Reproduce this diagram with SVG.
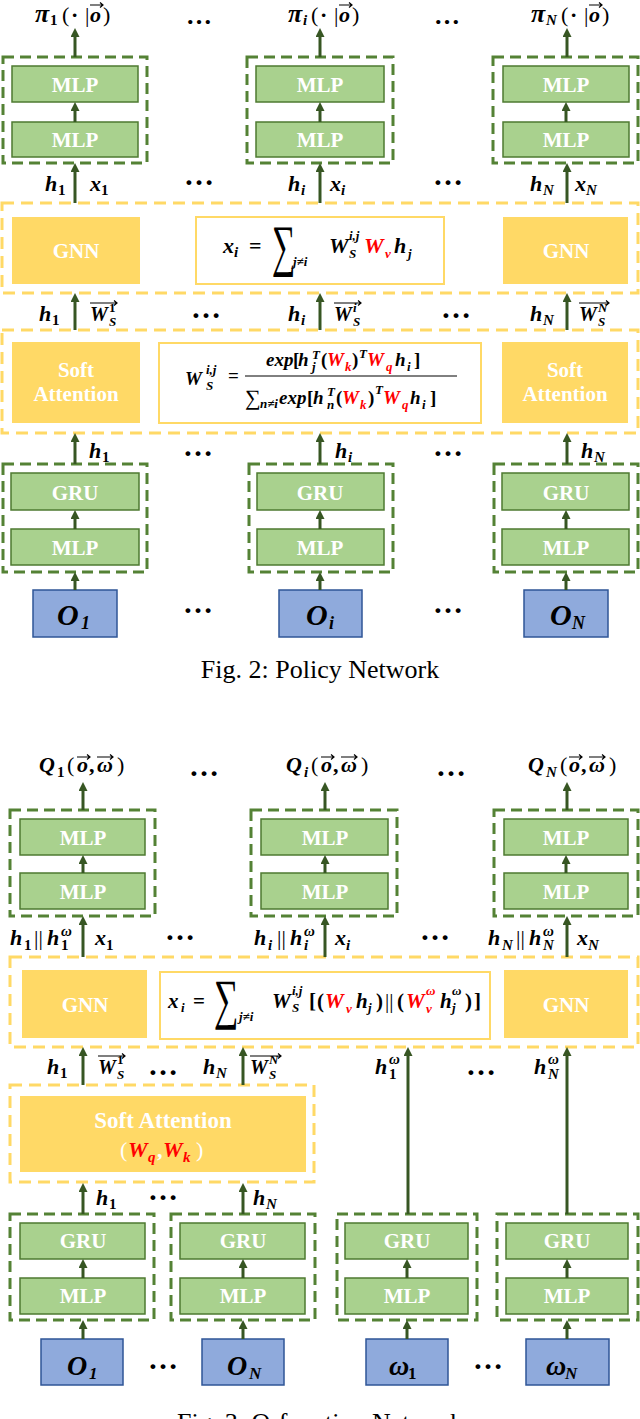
<svg xmlns="http://www.w3.org/2000/svg" width="640" height="1419" viewBox="0 0 640 1419">
<defs>
<style>
.m{font-family:"Liberation Serif","DejaVu Serif",serif;font-weight:bold;font-style:italic;font-size:22px;fill:#000}
.s{font-size:15px}
.t{font-size:13px}
.u{font-style:normal}
.n{font-weight:normal}
.r{fill:#FF0000}
.w{fill:#fff}
.lbl{font-family:"Liberation Serif",serif;font-weight:bold;font-size:21px;fill:#fff;text-anchor:middle}
.dots{font-family:"Liberation Serif",serif;font-weight:bold;font-size:30px;text-anchor:middle;fill:#000}
.cap{font-family:"Liberation Serif",serif;font-size:26px;text-anchor:middle;fill:#000}
.gd{fill:none;stroke:#548235;stroke-width:3;stroke-dasharray:11 6}
.yd{fill:none;stroke:#FFD966;stroke-width:3;stroke-dasharray:12 7}
.gb{fill:#A9D18E;stroke:#4E7A30;stroke-width:1.5}
.yb{fill:#FFD966}
.fb{fill:#fff;stroke:#FFD966;stroke-width:2}
.bb{fill:#8FAADC;stroke:#2F5597;stroke-width:1.5}
.ar{stroke:#375623;stroke-width:3;fill:none;marker-end:url(#ah)}
.vec{stroke:#000;stroke-width:1.2;fill:none}
.sig{font-family:"Liberation Serif",serif;font-weight:normal;font-size:30px;fill:#000}
</style>
<marker id="ah" viewBox="0 0 10 10" refX="2.2" refY="5" markerWidth="9" markerHeight="9" markerUnits="userSpaceOnUse" orient="auto">
<path d="M0,0 L10,5 L0,10 z" fill="#375623"/>
</marker>
</defs>
<rect width="640" height="1419" fill="#fff"/>

<!-- ================= POLICY NETWORK ================= -->
<g id="p-stack-top-1"><rect class="gd" x="3" y="57" width="144" height="106"/></g>
<g id="p-stack-top-i"><rect class="gd" x="247" y="57" width="146" height="106"/></g>
<g id="p-stack-top-N"><rect class="gd" x="493" y="57" width="145" height="106"/></g>

<g id="p-mlp2-1"><rect class="gb" x="12" y="66" width="126" height="36"/><text class="lbl" x="75" y="92">MLP</text></g>
<g id="p-mlp1-1"><rect class="gb" x="12" y="122" width="126" height="35"/><text class="lbl" x="75" y="147">MLP</text></g>
<g id="p-mlp2-i"><rect class="gb" x="256" y="66" width="128" height="36"/><text class="lbl" x="320" y="92">MLP</text></g>
<g id="p-mlp1-i"><rect class="gb" x="256" y="122" width="128" height="35"/><text class="lbl" x="320" y="147">MLP</text></g>
<g id="p-mlp2-N"><rect class="gb" x="503" y="66" width="126" height="36"/><text class="lbl" x="566" y="92">MLP</text></g>
<g id="p-mlp1-N"><rect class="gb" x="503" y="122" width="126" height="35"/><text class="lbl" x="566" y="147">MLP</text></g>

<g id="p-gnn-layer"><rect class="yd" x="2" y="203" width="636" height="90"/></g>
<g id="p-gnn-1"><rect class="yb" x="12" y="217" width="128" height="67"/><text class="lbl" x="76" y="258">GNN</text></g>
<g id="p-gnn-formula"><rect class="fb" x="196" y="217" width="248" height="67"/>
<text class="m">
<tspan x="223" y="253">x</tspan><tspan class="s" x="234" y="257">i</tspan>
<tspan class="u" x="249" y="253">=</tspan>
<tspan class="t" x="293" y="266">j≠i</tspan>
<tspan x="329" y="253">W</tspan><tspan class="t" x="349" y="240">i,j</tspan><tspan class="t" x="349" y="258">S</tspan>
<tspan class="r" x="364" y="253">W</tspan><tspan class="t r" x="385" y="258">v</tspan>
<tspan x="394" y="253">h</tspan><tspan class="t" x="408" y="258">j</tspan>
</text>
<text class="sig" transform="translate(272,265) scale(1.1,1.9)">∑</text></g>
<g id="p-gnn-N"><rect class="yb" x="503" y="217" width="125" height="67"/><text class="lbl" x="566" y="258">GNN</text></g>

<g id="p-att-layer"><rect class="yd" x="2" y="330" width="636" height="103"/></g>
<g id="p-att-1"><rect class="yb" x="12" y="342" width="128" height="81"/><text class="lbl" x="76" y="377">Soft</text><text class="lbl" x="76" y="401">Attention</text></g>
<g id="p-att-formula"><rect class="fb" x="159" y="343" width="322" height="80"/>
<text class="m" style="font-size:19px">
<tspan x="185" y="385">W</tspan><tspan class="t" x="206" y="374">i,j</tspan><tspan class="t" x="206" y="390">S</tspan>
<tspan class="u" x="228" y="382">=</tspan>
<tspan x="266" y="366">exp</tspan><tspan class="u" x="293" y="366">[</tspan><tspan x="298" y="366">h</tspan>
<tspan class="t" x="312" y="359">T</tspan><tspan class="t" x="312" y="371">j</tspan>
<tspan class="u" x="321" y="366">(</tspan><tspan class="r" x="327" y="366">W</tspan><tspan class="t r" x="345" y="371">k</tspan><tspan class="u" x="352" y="366">)</tspan>
<tspan class="t" x="359" y="358">T</tspan>
<tspan class="r" x="367" y="366">W</tspan><tspan class="t r" x="386" y="371">q</tspan>
<tspan x="395" y="366">h</tspan><tspan class="t" x="407" y="371">i</tspan><tspan class="u" x="414" y="366">]</tspan>
<tspan class="u n" style="font-size:22px" x="245" y="405">∑</tspan><tspan class="t" x="260" y="408">n≠i</tspan>
<tspan x="279" y="404">exp</tspan><tspan class="u" x="307" y="404">[</tspan><tspan x="313" y="404">h</tspan>
<tspan class="t" x="327" y="396">T</tspan><tspan class="t" x="327" y="409">n</tspan>
<tspan class="u" x="336" y="404">(</tspan><tspan class="r" x="342" y="404">W</tspan><tspan class="t r" x="360" y="409">k</tspan><tspan class="u" x="368" y="404">)</tspan>
<tspan class="t" x="375" y="394">T</tspan>
<tspan class="r" x="383" y="404">W</tspan><tspan class="t r" x="402" y="409">q</tspan>
<tspan x="410" y="404">h</tspan><tspan class="t" x="422" y="409">i</tspan><tspan class="u" x="430" y="404">]</tspan>
</text>
<line x1="245" y1="376" x2="457" y2="376" stroke="#000" stroke-width="1"/></g>
<g id="p-att-N"><rect class="yb" x="502" y="342" width="126" height="81"/><text class="lbl" x="565" y="377">Soft</text><text class="lbl" x="565" y="401">Attention</text></g>

<g id="p-stack-bot-1"><rect class="gd" x="3" y="464" width="144" height="108"/></g>
<g id="p-stack-bot-i"><rect class="gd" x="249" y="464" width="144" height="108"/></g>
<g id="p-stack-bot-N"><rect class="gd" x="494" y="464" width="144" height="108"/></g>
<g id="p-gru-1"><rect class="gb" x="11" y="473" width="128" height="37"/><text class="lbl" x="75" y="500">GRU</text></g>
<g id="p-mlp0-1"><rect class="gb" x="11" y="529" width="128" height="36"/><text class="lbl" x="75" y="555">MLP</text></g>
<g id="p-gru-i"><rect class="gb" x="257" y="473" width="127" height="37"/><text class="lbl" x="320" y="500">GRU</text></g>
<g id="p-mlp0-i"><rect class="gb" x="257" y="529" width="127" height="36"/><text class="lbl" x="320" y="555">MLP</text></g>
<g id="p-gru-N"><rect class="gb" x="502" y="473" width="127" height="37"/><text class="lbl" x="566" y="500">GRU</text></g>
<g id="p-mlp0-N"><rect class="gb" x="502" y="529" width="127" height="36"/><text class="lbl" x="566" y="555">MLP</text></g>

<g id="p-obs-1"><rect class="bb" x="33" y="590" width="84" height="47"/><text class="m" style="font-size:30px"><tspan x="57" y="625">O</tspan><tspan style="font-size:18px" x="81" y="629">1</tspan></text></g>
<g id="p-obs-i"><rect class="bb" x="279" y="590" width="83" height="47"/><text class="m" style="font-size:30px"><tspan x="306" y="625">O</tspan><tspan style="font-size:18px" x="329" y="629">i</tspan></text></g>
<g id="p-obs-N"><rect class="bb" x="524" y="590" width="84" height="47"/><text class="m" style="font-size:30px"><tspan x="550" y="625">O</tspan><tspan style="font-size:18px" x="572" y="629">N</tspan></text></g>

<!-- ================= Q NETWORK ================= -->
<g id="q-stack-top-1"><rect class="gd" x="10" y="810" width="145" height="106"/></g>
<g id="q-stack-top-i"><rect class="gd" x="251" y="810" width="146" height="106"/></g>
<g id="q-stack-top-N"><rect class="gd" x="494" y="810" width="144" height="106"/></g>
<g id="q-mlp2-1"><rect class="gb" x="20" y="819" width="125" height="36"/><text class="lbl" x="83" y="845">MLP</text></g>
<g id="q-mlp1-1"><rect class="gb" x="20" y="873" width="125" height="36"/><text class="lbl" x="83" y="899">MLP</text></g>
<g id="q-mlp2-i"><rect class="gb" x="261" y="819" width="127" height="36"/><text class="lbl" x="325" y="845">MLP</text></g>
<g id="q-mlp1-i"><rect class="gb" x="261" y="873" width="127" height="36"/><text class="lbl" x="325" y="899">MLP</text></g>
<g id="q-mlp2-N"><rect class="gb" x="504" y="819" width="124" height="36"/><text class="lbl" x="566" y="845">MLP</text></g>
<g id="q-mlp1-N"><rect class="gb" x="504" y="873" width="124" height="36"/><text class="lbl" x="566" y="899">MLP</text></g>

<g id="q-gnn-layer"><rect class="yd" x="10" y="957" width="628" height="90"/></g>
<g id="q-gnn-1"><rect class="yb" x="22" y="970" width="125" height="68"/><text class="lbl" x="85" y="1012">GNN</text></g>
<g id="q-gnn-formula"><rect class="fb" x="160" y="972" width="330" height="67"/>
<text class="m" style="font-size:21px">
<tspan x="168" y="1008">x</tspan><tspan class="t" x="181" y="1012">i</tspan>
<tspan class="u" x="193" y="1008">=</tspan>
<tspan class="t" x="239" y="1021">j≠i</tspan>
<tspan x="272" y="1008">W</tspan><tspan class="t" x="292" y="995">i,j</tspan><tspan class="t" x="292" y="1012">S</tspan>
<tspan class="u" x="309" y="1008">[</tspan><tspan class="u" x="317" y="1008">(</tspan>
<tspan class="r" x="325" y="1008">W</tspan><tspan class="t r" x="346" y="1013">v</tspan>
<tspan x="356" y="1008">h</tspan><tspan class="t" x="368" y="1012">j</tspan>
<tspan class="u" x="376" y="1008">)</tspan><tspan class="u n" x="385" y="1008">||</tspan><tspan class="u" x="397" y="1008">(</tspan>
<tspan class="r" x="406" y="1008">W</tspan><tspan class="t r" x="426" y="995">ω</tspan><tspan class="t r" x="426" y="1013">v</tspan>
<tspan x="440" y="1008">h</tspan><tspan class="t" x="452" y="995">ω</tspan><tspan class="t" x="452" y="1012">j</tspan>
<tspan class="u" x="465" y="1008">)</tspan><tspan class="u" x="474" y="1008">]</tspan>
</text>
<text class="sig" transform="translate(214,1018) scale(1.15,1.85)">∑</text></g>
<g id="q-gnn-N"><rect class="yb" x="504" y="970" width="124" height="68"/><text class="lbl" x="566" y="1012">GNN</text></g>

<g id="q-att-layer"><rect class="yd" x="10" y="1085" width="304" height="97"/></g>
<g id="q-att"><rect class="yb" x="20" y="1096" width="286" height="76"/>
<text class="lbl" style="font-size:23px" x="163" y="1128">Soft Attention</text>
<text class="m" style="font-size:22px"><tspan class="u n w" x="120" y="1157">(</tspan><tspan class="r" x="128" y="1157">W</tspan><tspan class="s r" x="148" y="1162">q</tspan><tspan class="u w" x="157" y="1157">,</tspan><tspan class="r" x="163" y="1157">W</tspan><tspan class="s r" x="183" y="1162">k</tspan><tspan class="u n w" x="196" y="1157">)</tspan></text></g>

<g id="q-stack-bot-1"><rect class="gd" x="10" y="1214" width="144" height="106"/></g>
<g id="q-stack-bot-2"><rect class="gd" x="171" y="1214" width="144" height="106"/></g>
<g id="q-stack-bot-3"><rect class="gd" x="337" y="1214" width="140" height="106"/></g>
<g id="q-stack-bot-4"><rect class="gd" x="497" y="1214" width="141" height="106"/></g>
<g id="q-gru-1"><rect class="gb" x="20" y="1223" width="125" height="36"/><text class="lbl" x="83" y="1248">GRU</text></g>
<g id="q-mlp0-1"><rect class="gb" x="20" y="1278" width="125" height="36"/><text class="lbl" x="83" y="1303">MLP</text></g>
<g id="q-gru-2"><rect class="gb" x="180" y="1223" width="125" height="36"/><text class="lbl" x="243" y="1248">GRU</text></g>
<g id="q-mlp0-2"><rect class="gb" x="180" y="1278" width="125" height="36"/><text class="lbl" x="243" y="1303">MLP</text></g>
<g id="q-gru-3"><rect class="gb" x="345" y="1223" width="123" height="36"/><text class="lbl" x="407" y="1248">GRU</text></g>
<g id="q-mlp0-3"><rect class="gb" x="345" y="1278" width="123" height="36"/><text class="lbl" x="407" y="1303">MLP</text></g>
<g id="q-gru-4"><rect class="gb" x="506" y="1223" width="122" height="36"/><text class="lbl" x="567" y="1248">GRU</text></g>
<g id="q-mlp0-4"><rect class="gb" x="506" y="1278" width="122" height="36"/><text class="lbl" x="567" y="1303">MLP</text></g>

<g id="q-obs-1"><rect class="bb" x="41" y="1339" width="82" height="46"/><text class="m" style="font-size:28px"><tspan x="67" y="1375">O</tspan><tspan style="font-size:17px" x="89" y="1379">1</tspan></text></g>
<g id="q-obs-N"><rect class="bb" x="202" y="1339" width="82" height="46"/><text class="m" style="font-size:28px"><tspan x="227" y="1375">O</tspan><tspan style="font-size:17px" x="249" y="1379">N</tspan></text></g>
<g id="q-om-1"><rect class="bb" x="366" y="1339" width="82" height="46"/><text class="m" style="font-size:28px"><tspan x="389" y="1375">ω</tspan><tspan class="u" style="font-size:17px" x="408" y="1379">1</tspan></text></g>
<g id="q-om-N"><rect class="bb" x="526" y="1339" width="83" height="46"/><text class="m" style="font-size:28px"><tspan x="546" y="1375">ω</tspan><tspan style="font-size:17px" x="565" y="1379">N</tspan></text></g>

<!-- ================= CONNECTORS ================= -->
<g id="connectors">
<path class="ar" d="M75 57V35"/><path class="ar" d="M320 57V35"/><path class="ar" d="M567 57V35"/>
<path class="ar" d="M75 122V109"/><path class="ar" d="M320 122V109"/><path class="ar" d="M566 122V109"/>
<path class="ar" d="M75 203V170"/><path class="ar" d="M320 203V170"/><path class="ar" d="M567 203V170"/>
<path class="ar" d="M75 330V300"/><path class="ar" d="M320 330V300"/><path class="ar" d="M567 330V300"/>
<path class="ar" d="M75 464V440"/><path class="ar" d="M320 464V440"/><path class="ar" d="M567 464V440"/>
<path class="ar" d="M75 529V517"/><path class="ar" d="M320 529V517"/><path class="ar" d="M566 529V517"/>
<path class="ar" d="M75 590V579"/><path class="ar" d="M320 590V579"/><path class="ar" d="M566 590V579"/>

<path class="ar" d="M83 810V789"/><path class="ar" d="M325 810V789"/><path class="ar" d="M567 810V789"/>
<path class="ar" d="M83 873V862"/><path class="ar" d="M325 873V862"/><path class="ar" d="M566 873V862"/>
<path class="ar" d="M83 957V923"/><path class="ar" d="M325 957V923"/><path class="ar" d="M567 957V923"/>
<path class="ar" d="M83 1085V1054"/><path class="ar" d="M243 1085V1054"/>
<path class="ar" d="M408 1214V1054"/><path class="ar" d="M567 1214V1054"/>
<path class="ar" d="M83 1214V1190"/><path class="ar" d="M243 1214V1190"/>
<path class="ar" d="M83 1278V1266"/><path class="ar" d="M243 1278V1266"/><path class="ar" d="M407 1278V1266"/><path class="ar" d="M567 1278V1266"/>
<path class="ar" d="M83 1339V1327"/><path class="ar" d="M243 1339V1327"/><path class="ar" d="M407 1339V1327"/><path class="ar" d="M567 1339V1327"/>
</g>

<!-- ================= LABELS ================= -->
<g id="labels">
<!-- policy outputs -->
<text class="m"><tspan style="font-size:26px" x="35" y="22">π</tspan><tspan class="s u" x="50" y="25">1</tspan><tspan class="u n" x="62" y="22">(</tspan><tspan class="u" x="71" y="22">·</tspan><tspan class="u n" x="85" y="22">|</tspan><tspan x="90" y="22">o</tspan><tspan class="u n" x="103" y="22">)</tspan></text>
<path class="vec" d="M90 5H103M100 2.5L103 5L100 7.5"/>
<text class="m"><tspan style="font-size:26px" x="288" y="22">π</tspan><tspan class="s" x="303" y="25">i</tspan><tspan class="u n" x="311" y="22">(</tspan><tspan class="u" x="320" y="22">·</tspan><tspan class="u n" x="334" y="22">|</tspan><tspan x="339" y="22">o</tspan><tspan class="u n" x="352" y="22">)</tspan></text>
<path class="vec" d="M339 5H352M349 2.5L352 5L349 7.5"/>
<text class="m"><tspan style="font-size:26px" x="531" y="22">π</tspan><tspan class="s" x="546" y="25">N</tspan><tspan class="u n" x="561" y="22">(</tspan><tspan class="u" x="570" y="22">·</tspan><tspan class="u n" x="584" y="22">|</tspan><tspan x="589" y="22">o</tspan><tspan class="u n" x="602" y="22">)</tspan></text>
<path class="vec" d="M589 5H602M599 2.5L602 5L599 7.5"/>

<!-- h x row -->
<text class="m"><tspan x="45" y="191">h</tspan><tspan class="s u" x="58" y="195">1</tspan></text>
<text class="m"><tspan x="90" y="191">x</tspan><tspan class="s u" x="101" y="195">1</tspan></text>
<text class="m"><tspan x="288" y="191">h</tspan><tspan class="s" x="301" y="195">i</tspan></text>
<text class="m"><tspan x="330" y="191">x</tspan><tspan class="s" x="341" y="195">i</tspan></text>
<text class="m"><tspan x="530" y="191">h</tspan><tspan class="s" x="543" y="195">N</tspan></text>
<text class="m"><tspan x="575" y="191">x</tspan><tspan class="s" x="586" y="195">N</tspan></text>

<!-- h W row -->
<text class="m"><tspan x="39" y="321">h</tspan><tspan class="s u" x="52" y="325">1</tspan></text>
<text class="m" style="font-size:20px"><tspan x="90" y="321">W</tspan><tspan class="t u" x="109" y="312">1</tspan><tspan class="t" x="109" y="326">S</tspan></text>
<path class="vec" d="M90 303H117M114 300.5L117 303L114 305.5"/>
<text class="m"><tspan x="288" y="321">h</tspan><tspan class="s" x="301" y="325">i</tspan></text>
<text class="m" style="font-size:20px"><tspan x="334" y="321">W</tspan><tspan class="t" x="353" y="312">i</tspan><tspan class="t" x="353" y="326">S</tspan></text>
<path class="vec" d="M334 303H361M358 300.5L361 303L358 305.5"/>
<text class="m"><tspan x="530" y="321">h</tspan><tspan class="s" x="543" y="325">N</tspan></text>
<text class="m" style="font-size:20px"><tspan x="579" y="321">W</tspan><tspan class="t" x="598" y="312">N</tspan><tspan class="t" x="598" y="326">S</tspan></text>
<path class="vec" d="M579 303H609M606 300.5L609 303L606 305.5"/>

<!-- h row under soft -->
<text class="m"><tspan x="89" y="458">h</tspan><tspan class="s u" x="102" y="462">1</tspan></text>
<text class="m"><tspan x="335" y="458">h</tspan><tspan class="s" x="348" y="462">i</tspan></text>
<text class="m"><tspan x="581" y="458">h</tspan><tspan class="s" x="594" y="462">N</tspan></text>

<!-- Q outputs -->
<text class="m"><tspan x="39" y="772">Q</tspan><tspan class="s u" x="57" y="777">1</tspan><tspan class="u n" x="67" y="772">(</tspan><tspan x="77" y="772">o</tspan><tspan class="u" x="89" y="772">,</tspan><tspan x="97" y="772">ω</tspan><tspan class="u n" x="117" y="772">)</tspan></text>
<path class="vec" d="M77 757H90M87 754.5L90 757L87 759.5"/><path class="vec" d="M97 757H113M110 754.5L113 757L110 759.5"/>
<text class="m"><tspan x="286" y="772">Q</tspan><tspan class="s" x="304" y="777">i</tspan><tspan class="u n" x="311" y="772">(</tspan><tspan x="321" y="772">o</tspan><tspan class="u" x="333" y="772">,</tspan><tspan x="341" y="772">ω</tspan><tspan class="u n" x="361" y="772">)</tspan></text>
<path class="vec" d="M321 757H334M331 754.5L334 757L331 759.5"/><path class="vec" d="M341 757H357M354 754.5L357 757L354 759.5"/>
<text class="m"><tspan x="528" y="772">Q</tspan><tspan class="s" x="546" y="777">N</tspan><tspan class="u n" x="560" y="772">(</tspan><tspan x="569" y="772">o</tspan><tspan class="u" x="581" y="772">,</tspan><tspan x="589" y="772">ω</tspan><tspan class="u n" x="609" y="772">)</tspan></text>
<path class="vec" d="M569 757H582M579 754.5L582 757L579 759.5"/><path class="vec" d="M589 757H605M602 754.5L605 757L602 759.5"/>

<!-- h||h row -->
<text class="m"><tspan x="10" y="945">h</tspan><tspan class="s u" x="24" y="950">1</tspan><tspan class="u n" x="34" y="945">||</tspan><tspan x="47" y="945">h</tspan><tspan class="s" x="61" y="936">ω</tspan><tspan class="s u" x="61" y="950">1</tspan></text>
<text class="m"><tspan x="95" y="945">x</tspan><tspan class="s u" x="106" y="950">1</tspan></text>
<text class="m"><tspan x="254" y="945">h</tspan><tspan class="s" x="268" y="950">i</tspan><tspan class="u n" x="277" y="945">||</tspan><tspan x="290" y="945">h</tspan><tspan class="s" x="304" y="936">ω</tspan><tspan class="s" x="304" y="950">i</tspan></text>
<text class="m"><tspan x="335" y="945">x</tspan><tspan class="s" x="346" y="950">i</tspan></text>
<text class="m"><tspan x="488" y="945">h</tspan><tspan class="s" x="502" y="950">N</tspan><tspan class="u n" x="516" y="945">||</tspan><tspan x="529" y="945">h</tspan><tspan class="s" x="543" y="936">ω</tspan><tspan class="s" x="543" y="950">N</tspan></text>
<text class="m"><tspan x="577" y="945">x</tspan><tspan class="s" x="588" y="950">N</tspan></text>

<!-- Q row under GNN -->
<text class="m"><tspan x="47" y="1074">h</tspan><tspan class="s u" x="60" y="1078">1</tspan></text>
<text class="m" style="font-size:20px"><tspan x="98" y="1074">W</tspan><tspan class="t u" x="117" y="1064">1</tspan><tspan class="t" x="117" y="1079">S</tspan></text>
<path class="vec" d="M98 1056H125M122 1053.5L125 1056L122 1058.5"/>
<text class="m"><tspan x="203" y="1074">h</tspan><tspan class="s" x="216" y="1078">N</tspan></text>
<text class="m" style="font-size:20px"><tspan x="250" y="1074">W</tspan><tspan class="t" x="269" y="1064">N</tspan><tspan class="t" x="269" y="1079">S</tspan></text>
<path class="vec" d="M250 1056H281M278 1053.5L281 1056L278 1058.5"/>
<text class="m"><tspan x="375" y="1074">h</tspan><tspan class="s" x="389" y="1064">ω</tspan><tspan class="s u" x="389" y="1079">1</tspan></text>
<text class="m"><tspan x="534" y="1074">h</tspan><tspan class="s" x="548" y="1064">ω</tspan><tspan class="s" x="548" y="1079">N</tspan></text>

<!-- Q row under soft -->
<text class="m"><tspan x="96" y="1205">h</tspan><tspan class="s u" x="109" y="1209">1</tspan></text>
<text class="m"><tspan x="253" y="1205">h</tspan><tspan class="s" x="266" y="1209">N</tspan></text>

<!-- ellipses -->
<text class="dots" style="font-size:26px" x="199" y="24">…</text><text class="dots" style="font-size:26px" x="447" y="24">…</text>
<text class="dots" x="199" y="185">…</text><text class="dots" x="448" y="185">…</text>
<text class="dots" x="206" y="318">…</text><text class="dots" x="456" y="318">…</text>
<text class="dots" x="198" y="456">…</text><text class="dots" x="448" y="456">…</text>
<text class="dots" x="198" y="613">…</text><text class="dots" x="448" y="613">…</text>
<text class="dots" x="204" y="776">…</text><text class="dots" x="451" y="776">…</text>
<text class="dots" x="180" y="940">…</text><text class="dots" x="435" y="940">…</text>
<text class="dots" x="163" y="1075">…</text><text class="dots" x="481" y="1075">…</text>
<text class="dots" x="163" y="1200">…</text>
<text class="dots" x="163" y="1369">…</text><text class="dots" x="488" y="1369">…</text>
</g>

<g id="captions">
<text class="cap" x="320" y="678">Fig. 2: Policy Network</text>
<text class="cap" x="320" y="1431">Fig. 3: Q-function Network</text>
</g>
</svg>
